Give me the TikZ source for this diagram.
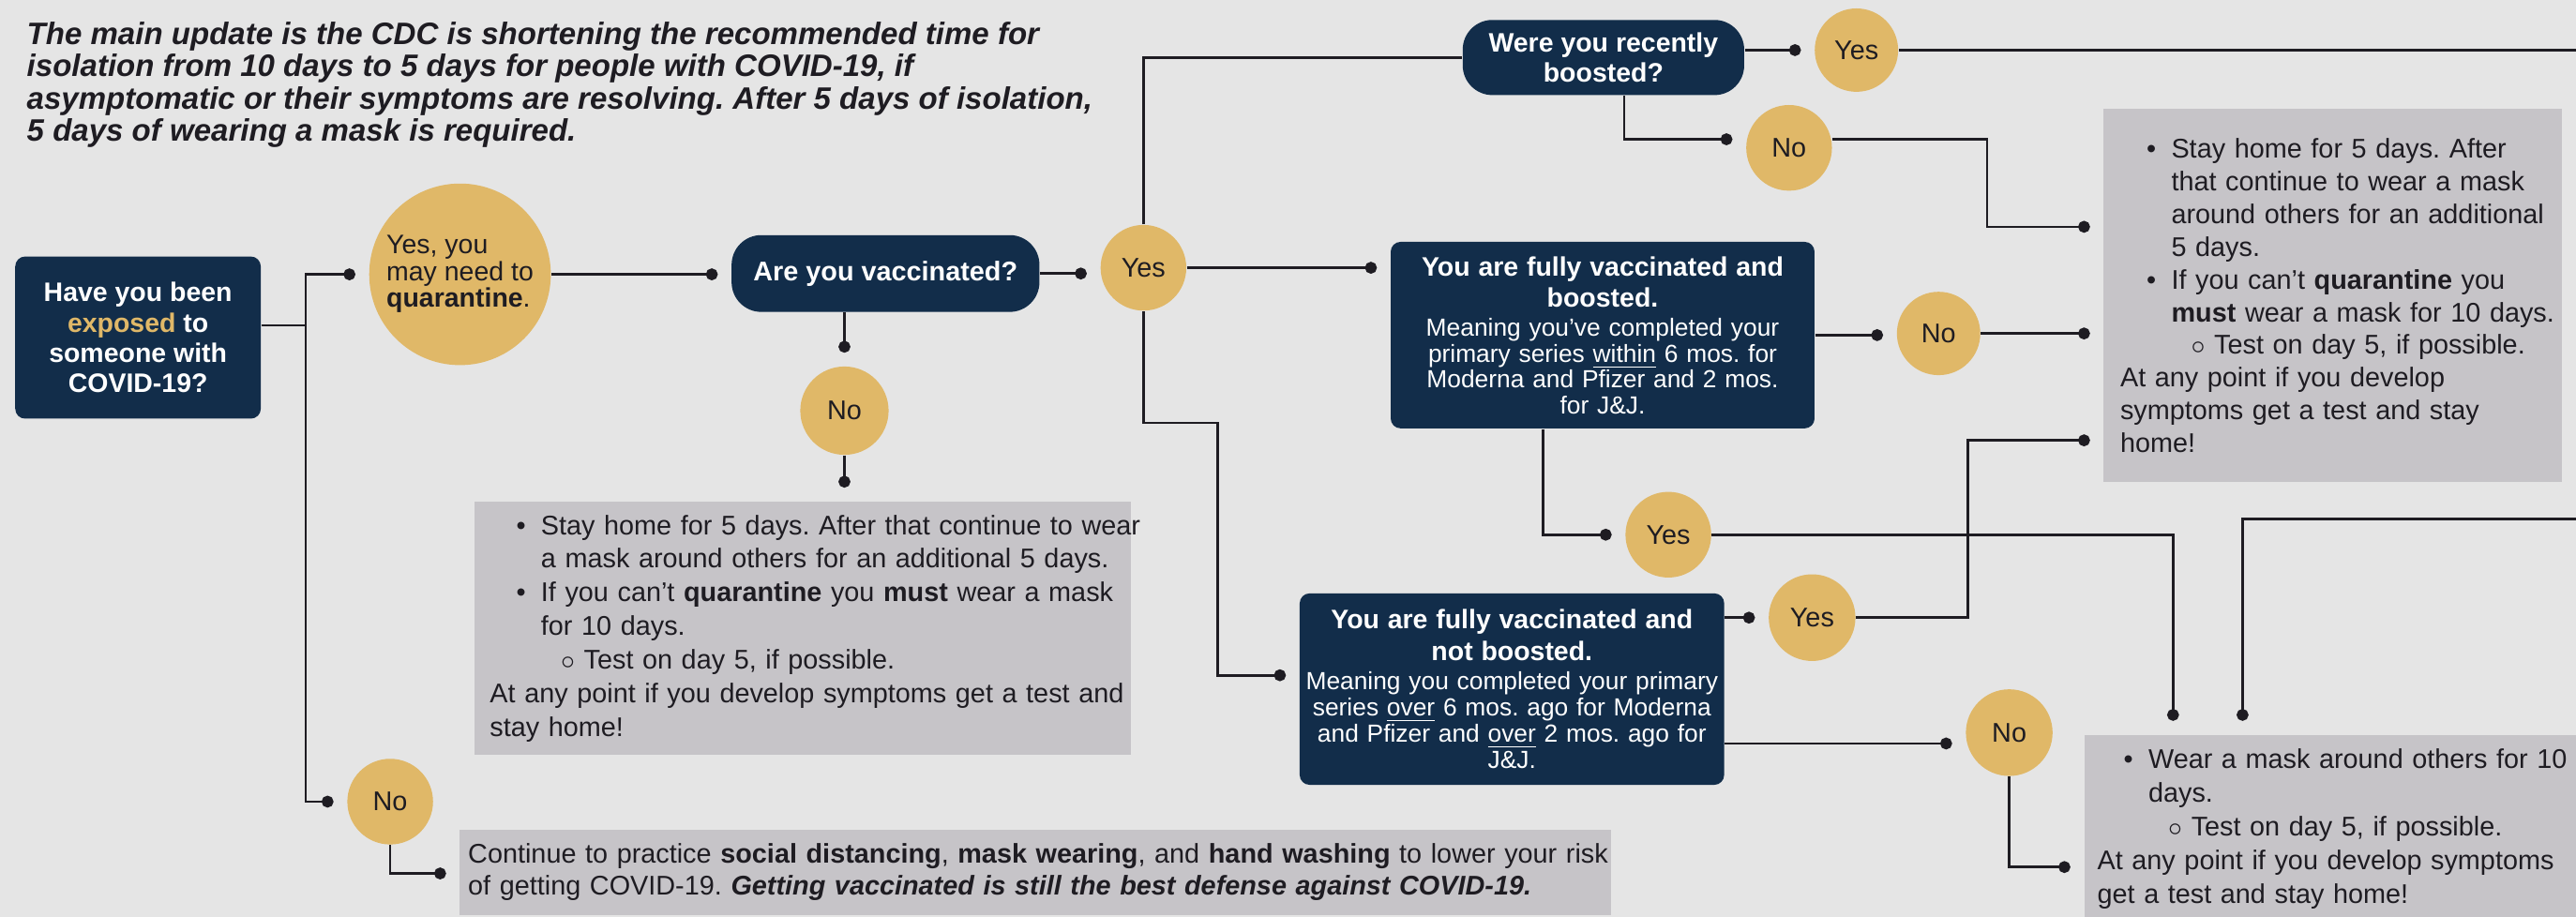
\documentclass[tikz,border=0pt]{standalone}
\usepackage{fontspec}
\setmainfont{Liberation Sans}
\usetikzlibrary{arrows.meta,calc}
\frenchspacing

\definecolor{navy}{RGB}{18,45,74}
\definecolor{gold}{RGB}{224,184,104}
\definecolor{panel}{RGB}{198,196,200}
\definecolor{paper}{RGB}{229,229,229}
\definecolor{ink}{RGB}{30,28,34}

% bullet lines inside the grey panels
\newcommand\bitem[1]{\mbox{\hspace*{8pt}\makebox[7.5pt][l]{\textbullet}#1}}
\newcommand\bcont[1]{\mbox{\hspace*{15.5pt}#1}}
\newcommand\bsub[1]{\mbox{\hspace*{21.5pt}\makebox[7pt][l]{$\circ$}#1}}

\tikzset{
  qbox/.style={fill=navy, text=white, rounded corners=3pt, inner sep=1pt, align=center},
  ans/.style={circle, fill=gold, text=ink, inner sep=0pt, minimum size=#1,
    font=\fontsize{8.2}{9}\selectfont},
  ans/.default=26pt,
  info/.style={fill=panel, text=ink, align=left, inner ysep=0pt,
    font=\fontsize{8.2}{10.2}\selectfont},
  link/.style={draw=ink, line width=0.75pt},
  dot/.style={link, -{Circle[length=3.6pt]}, shorten >=4pt},
}

\begin{document}
\begin{tikzpicture}[x=0.1752mm, y=-0.1752mm]
  \useasboundingbox (0,0) rectangle (1568,558);
  \fill[paper] (0,0) rectangle (1568,558);

  \node[anchor=north west, inner sep=0pt, align=left, text=ink,
    font=\fontsize{9.4}{9.8}\selectfont\bfseries\itshape] (title) at (16,13)
    {The main update is the CDC is shortening the recommended time for\\
     isolation from 10 days to 5 days for people with COVID-19, if\\
     asymptomatic or their symptoms are resolving. After 5 days of isolation,\\
     5 days of wearing a mask is required.};

  % left column
  \node[qbox, minimum width=74.5pt, minimum height=49.2pt,
    font=\fontsize{8.1}{9.2}\selectfont\bfseries] (expo) at (84,205.5)
    {Have you been\\ \textcolor{gold}{exposed} to\\ someone with\\ COVID-19?};
  \node[ans=55.1pt, align=left, font=\fontsize{8.1}{8.1}\selectfont] (quar) at (280,167)
    {Yes, you\\ may need to\\ \textbf{quarantine}.};
  \node[ans] (noexp) at (237.5,488) {No};
  \node[qbox, rounded corners=9pt, minimum width=93.4pt, minimum height=23.3pt,
    font=\fontsize{8.2}{9.5}\selectfont\bfseries] (vacc) at (539,166.5) {Are you vaccinated?};
  \node[ans=26.8pt] (vaccno) at (514,250) {No};
  \node[ans] (vaccyes) at (696,163) {Yes};

  \node[info, text width=189.7pt, inner xsep=4.7pt, minimum height=77pt] (info1) at (488.5,382.5)
    {\bitem{Stay home for 5 days. After that continue to wear}\\
     \bcont{a mask around others for an additional 5 days.}\\
     \bitem{If you can't \textbf{quarantine} you \textbf{must} wear a mask}\\
     \bcont{for 10 days.}\\
     \bsub{Test on day 5, if possible.}\\
     \mbox{At any point if you develop symptoms get a test and}\\
     stay home!};
  \node[info, text width=344.3pt, inner xsep=2.5pt, minimum height=25.8pt,
    font=\fontsize{8.2}{9.7}\selectfont] (info4) at (630.3,531)
    {\mbox{Continue to practice \textbf{social distancing}, \textbf{mask wearing}, and \textbf{hand washing} to lower your risk}\\
     \mbox{of getting COVID-19. \textbf{\textit{Getting vaccinated is still the best defense against COVID-19.}}}};

  % booster question
  \node[qbox, rounded corners=9pt, minimum width=85.4pt, minimum height=22.8pt,
    font=\fontsize{8.1}{9}\selectfont\bfseries] (boost) at (976,35) {Were you recently\\ boosted?};
  \node[ans=25.3pt] (boostyes) at (1130,30.5) {Yes};
  \node[ans] (boostno) at (1089,90) {No};

  \node[qbox, text width=124pt, minimum width=128.6pt, minimum height=56.6pt,
    font=\fontsize{7.5}{7.8}\selectfont] (boxB) at (975.5,204)
    {{\fontsize{8.1}{9.5}\selectfont\bfseries You are fully vaccinated and\\ boosted.\par}\vspace{1.1pt}
     Meaning you've completed your\\ primary series \underline{within} 6 mos. for\\
     Moderna and Pfizer and 2 mos.\\ for J\&J.};
  \node[ans=25.3pt] (boxBno) at (1180,203) {No};
  \node[ans] (boxByes) at (1015.5,325.5) {Yes};

  \node[qbox, text width=126pt, inner xsep=0.5pt, minimum width=128.8pt, minimum height=58.1pt,
    font=\fontsize{7.5}{8}\selectfont] (boxC) at (920.3,419.5)
    {{\fontsize{8.1}{9.5}\selectfont\bfseries You are fully vaccinated and\\ not boosted.\par}\vspace{0.9pt}
     Meaning you completed your primary\\ series \underline{over} 6 mos. ago for Moderna\\
     and Pfizer and \underline{over} 2 mos. ago for\\ J\&J.};
  \node[ans=26.3pt] (boxCyes) at (1103,376) {Yes};
  \node[ans=26.3pt] (boxCno) at (1223,446) {No};

  \node[info, text width=129pt, inner xsep=5pt, minimum height=113.2pt,
    font=\fontsize{8.2}{9.93}\selectfont] (info2) at (1420,180)
    {\bitem{Stay home for 5 days. After}\\
     \bcont{that continue to wear a mask}\\
     \bcont{around others for an additional}\\
     \bcont{5 days.}\\
     \bitem{If you can't \textbf{quarantine} you}\\
     \bcont{\textbf{must} wear a mask for 10 days.}\\
     \bsub{Test on day 5, if possible.}\\
     At any point if you develop\\
     symptoms get a test and stay\\
     home!};
  \node[info, text width=150.9pt, inner xsep=4pt, minimum height=57.3pt] (info3) at (1428,504.7)
    {\bitem{Wear a mask around others for 10}\\
     \bcont{days.}\\
     \bsub{Test on day 5, if possible.}\\
     \mbox{At any point if you develop symptoms}\\
     get a test and stay home!};

  \coordinate (edgeA) at (1575,29);
  \coordinate (edgeB) at (1575,316);

  % connectors
  \draw[dot] ([yshift=3.7pt]expo.east) -- ++(27,0) |- (quar.west);
  \draw[dot] ([yshift=3.7pt]expo.east) -- ++(27,0) |- (noexp.west);
  \draw[dot] (noexp.south) |- ($(info4.north west)+(0,27)$);
  \draw[dot] (quar.east) -- (quar.east -| vacc.west);
  \draw[dot] (vacc.east) -- (vacc.east -| vaccyes.west);
  \draw[dot] (vacc.south -| vaccno.north) -- (vaccno.north);
  \draw[dot] (vaccno.south) -- (vaccno.south |- info1.north);

  \draw[link] (vaccyes.north) |- (boost.west);
  \draw[dot] (vaccyes.east) -- (vaccyes.east -| boxB.west);
  \draw[dot] (vaccyes.south) -- ++(0,68) -- ++(45,0) |- ([yshift=4.2pt]boxC.west);

  \draw[dot] (boost.east |- boostyes.west) -- (boostyes.west);
  \draw[link] (boostyes.east) -- (boostyes.east -| edgeA);
  \draw[dot] ([xshift=6.3pt]boost.south) |- ([yshift=2.6pt]boostno.west);
  \draw[dot] ([yshift=2.6pt]boostno.east) -- ++(94,0) |- ($(info2.north west)+(0,72)$);

  \draw[dot] (boxB.east) -- (boxB.east -| boxBno.west);
  \draw[dot] (boxBno.east) -- (boxBno.east -| info2.west);
  \draw[dot] ([xshift=-18.1pt]boxB.south) |- (boxByes.west);
  \draw[dot] (boxByes.east) -| ($(info3.north west)+(54.5,0)$);
  \draw[dot] (edgeB) -| ($(info3.north west)+(96.8,0)$);

  \draw[dot] (boxC.east |- boxCyes.west) -- (boxCyes.west);
  \draw[dot] (boxCyes.east) -- ++(68,0) |- ($(info2.north west)+(0,202)$);
  \draw[dot] ([yshift=-16.5pt]boxC.east) -- ([yshift=-16.5pt]boxC.east -| boxCno.west);
  \draw[dot] (boxCno.south) |- ($(info3.north west)+(0,81)$);
\end{tikzpicture}
\end{document}
